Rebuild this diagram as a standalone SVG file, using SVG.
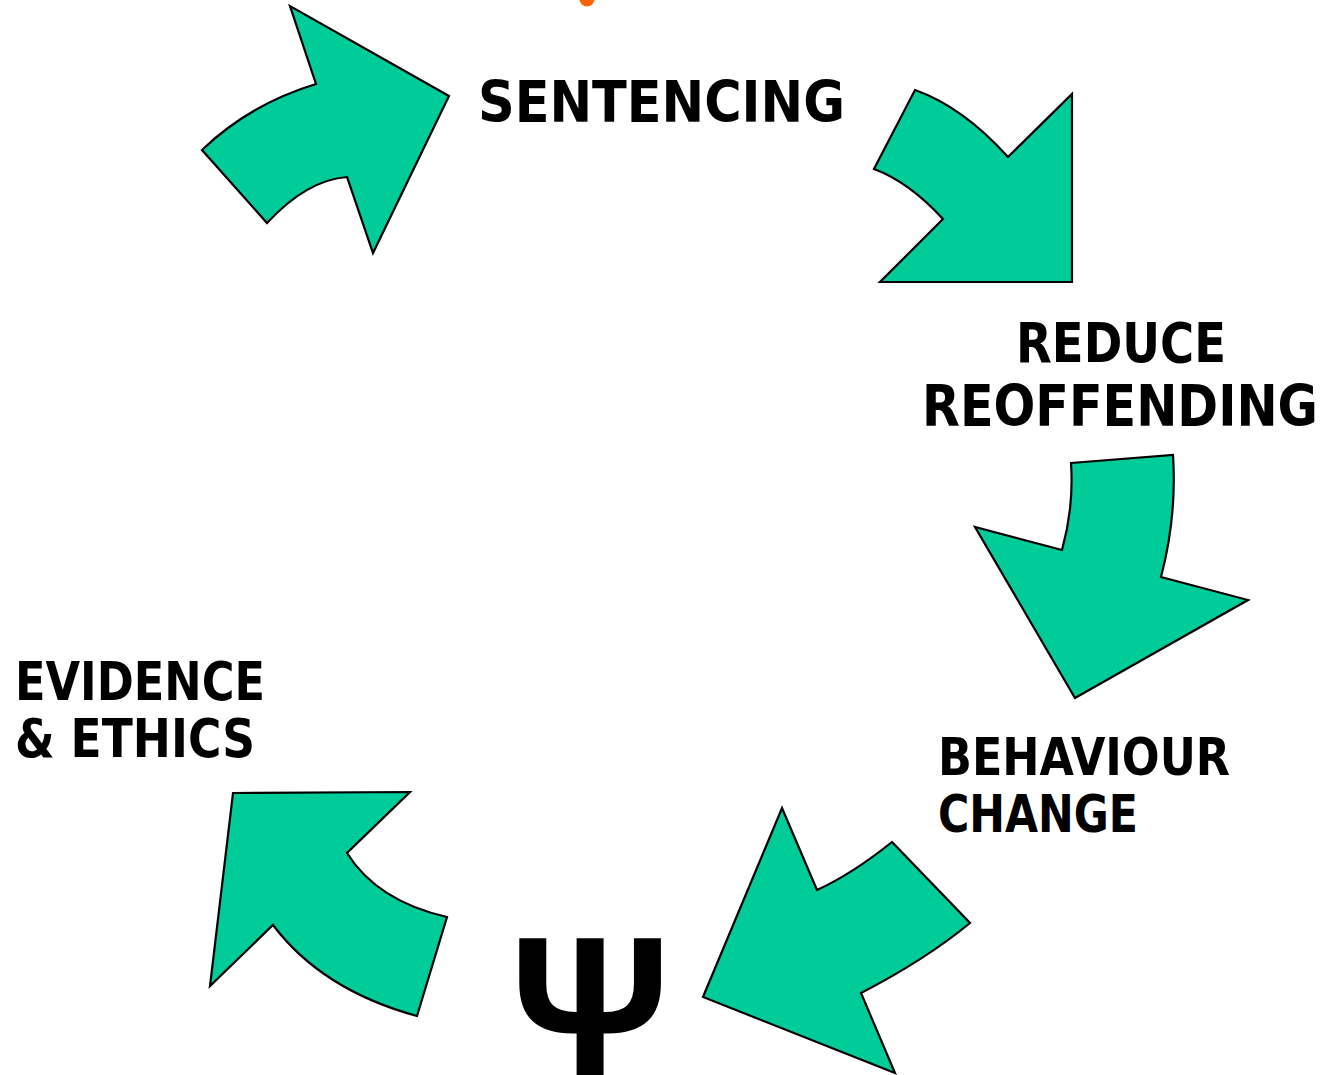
<svg xmlns="http://www.w3.org/2000/svg" width="1325" height="1075" viewBox="0 0 1325 1075">
<style>
.arrow{fill:#00CC99;stroke:#000;stroke-width:2.2;stroke-linejoin:miter}
.lbl{font-family:"Comic Sans MS","DejaVu Sans",sans-serif;font-weight:bold;fill:#000}
</style>
<rect width="1325" height="1075" fill="#fff"/>
<circle cx="587" cy="-1" r="7.5" fill="#FF6600"/>
<g id="connectors">
<path id="arrow1" class="arrow" d="M316,84 L290,6 L449,96 L373,253 L347,177 Q307,180 267,223 L202,150 Q250,104 316,84 Z"/>
<path id="arrow2" class="arrow" d="M915,90 Q963,107 1008,157 L1072,94 L1072,282 L880,282 L943,219 Q909,182 874,169 Z"/>
<path id="arrow3" class="arrow" d="M1071,463 L1173,455 Q1177,516 1161,577 L1248,600 L1075,698 L975,527 L1062,550 Q1074,507 1071,463 Z"/>
<path id="arrow4" class="arrow" d="M782,808 L817,890 Q852,874 892,842 L970,923 Q925,960 861,993 L895,1073 L703,997 Z"/>
<path id="arrow5" class="arrow" d="M233,793 L410,792 L347,853 Q377,901 447,917 L417,1016 Q322,990 273,925 L210,986 Z"/>
</g>
<g id="node-sentencing"><text class="lbl" x="478" y="122" font-size="57" textLength="367" lengthAdjust="spacingAndGlyphs">SENTENCING</text></g>
<g id="node-reduce"><text class="lbl" x="1016" y="362" font-size="56" textLength="210" lengthAdjust="spacingAndGlyphs">REDUCE</text><text class="lbl" x="922" y="426" font-size="57" textLength="396" lengthAdjust="spacingAndGlyphs">REOFFENDING</text></g>
<g id="node-behaviour"><text class="lbl" x="938" y="775" font-size="52" textLength="292" lengthAdjust="spacingAndGlyphs">BEHAVIOUR</text><text class="lbl" x="938" y="832" font-size="52" textLength="200" lengthAdjust="spacingAndGlyphs">CHANGE</text></g>
<g id="node-evidence"><text class="lbl" x="15" y="700" font-size="53" textLength="250" lengthAdjust="spacingAndGlyphs">EVIDENCE</text><text class="lbl" x="15" y="757" font-size="53" textLength="240" lengthAdjust="spacingAndGlyphs">&amp; ETHICS</text></g>
<g id="node-psi"><text x="590" y="1075" font-family="'Liberation Sans',Arial,sans-serif" font-weight="bold" font-size="198" text-anchor="middle" fill="#000">Ψ</text></g>
</svg>
